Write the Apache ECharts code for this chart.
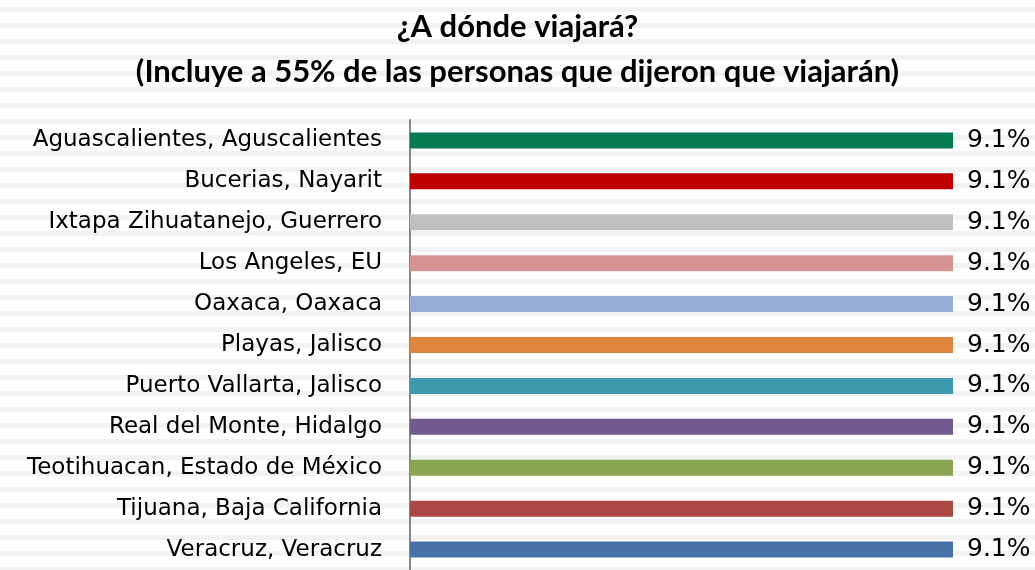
<!DOCTYPE html>
<html>
<head>
<meta charset="utf-8">
<script src="https://cdn.jsdelivr.net/npm/echarts@6/dist/echarts.min.js"></script>
<style>
  html, body { margin: 0; padding: 0; }
  #chart {
    width: 1035px;
    height: 570px;
    background: repeating-linear-gradient(to bottom, #fff 0 7px, #f2f2f2 7px 12px, #fff 12px 16px);
  }
</style>
</head>
<body>
<div id="chart"></div>
<script>
// destinos y porcentajes
const destinos = [
  'Aguascalientes, Aguscalientes',
  'Bucerias, Nayarit',
  'Ixtapa Zihuatanejo, Guerrero',
  'Los Angeles, EU',
  'Oaxaca, Oaxaca',
  'Playas, Jalisco',
  'Puerto Vallarta, Jalisco',
  'Real del Monte, Hidalgo',
  'Teotihuacan, Estado de México',
  'Tijuana, Baja California',
  'Veracruz, Veracruz'
]
const porcentajes = [9.1, 9.1, 9.1, 9.1, 9.1, 9.1, 9.1, 9.1, 9.1, 9.1, 9.1]
const colores = ['#077B50', '#C00000', '#BFBFBF', '#D49390', '#94ACD6', '#DD853F',
  '#3D98AE', '#705A8F', '#8BA653', '#A94845', '#4672A6']

const chart = echarts.init(document.getElementById('chart'))
chart.setOption({
  animation: false,
  title: {
    text: '¿A dónde viajará?\n(Incluye a 55% de las personas que dijeron que viajarán)',
    left: 'center',
    top: -1,
    textStyle: {
      fontFamily: 'Lato',
      fontWeight: 'bold',
      fontSize: 31,
      lineHeight: 45,
      color: '#000'
    }
  },
  grid: {
    left: 410,
    right: 82,
    top: 120,
    height: 454
  },
  xAxis: {
    type: 'value',
    min: 0,
    max: 9.1,
    show: false
  },
  yAxis: {
    type: 'category',
    data: destinos,
    inverse: true,
    axisTick: { show: false },
    axisLine: { lineStyle: { color: '#868686', width: 2 } },
    axisLabel: {
      margin: 28,
      fontFamily: 'DejaVu Sans',
      fontSize: 23,
      color: '#000'
    }
  },
  series: [{
    type: 'bar',
    barWidth: 16,
    data: porcentajes.map((v, i) => ({
      value: v,
      itemStyle: { color: colores[i] }
    })),
    label: {
      show: true,
      position: 'right',
      distance: 14,
      formatter: p => p.value.toFixed(1) + '%',
      fontFamily: 'DejaVu Sans',
      fontSize: 25,
      color: '#000'
    }
  }]
})
</script>
</body>
</html>
